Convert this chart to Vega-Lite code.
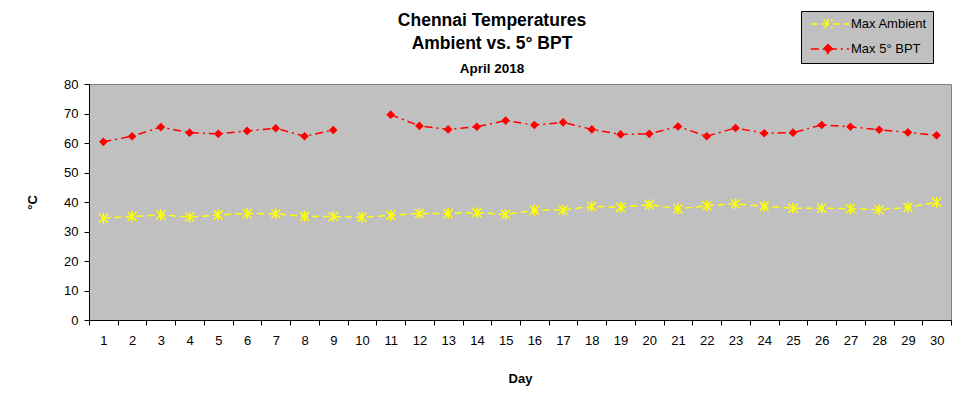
{
  "$schema": "https://vega.github.io/schema/vega-lite/v6.json",
  "autosize": "none",
  "width": 862,
  "height": 236,
  "padding": {"left": 89, "top": 84, "right": 22, "bottom": 84},
  "background": "#FFFFFF",
  "config": {
    "view": {"fill": "#C0C0C0", "stroke": "#808080", "strokeWidth": 1},
    "font": "Liberation Sans"
  },
  "title": {
    "text": ["Chennai Temperatures", "Ambient vs. 5° BPT"],
    "subtitle": "April 2018",
    "font": "Liberation Sans",
    "fontSize": 17.5,
    "fontWeight": "bold",
    "color": "#000000",
    "subtitleFont": "Liberation Sans",
    "subtitleFontSize": 13.5,
    "subtitleFontWeight": "bold",
    "subtitleColor": "#000000",
    "anchor": "middle",
    "frame": "group",
    "dx": -28,
    "dy": 73,
    "offset": 8,
    "lineHeight": 23,
    "subtitlePadding": 10
  },
  "data": {
    "values": [
      {"day": 1, "series": "Max Ambient", "temp": 34.5},
      {"day": 2, "series": "Max Ambient", "temp": 35.1},
      {"day": 3, "series": "Max Ambient", "temp": 35.6},
      {"day": 4, "series": "Max Ambient", "temp": 34.9},
      {"day": 5, "series": "Max Ambient", "temp": 35.6},
      {"day": 6, "series": "Max Ambient", "temp": 36.1},
      {"day": 7, "series": "Max Ambient", "temp": 36.0},
      {"day": 8, "series": "Max Ambient", "temp": 35.1},
      {"day": 9, "series": "Max Ambient", "temp": 35.1},
      {"day": 10, "series": "Max Ambient", "temp": 34.8},
      {"day": 11, "series": "Max Ambient", "temp": 35.5},
      {"day": 12, "series": "Max Ambient", "temp": 36.1},
      {"day": 13, "series": "Max Ambient", "temp": 36.1},
      {"day": 14, "series": "Max Ambient", "temp": 36.4},
      {"day": 15, "series": "Max Ambient", "temp": 35.8},
      {"day": 16, "series": "Max Ambient", "temp": 37.2},
      {"day": 17, "series": "Max Ambient", "temp": 37.3},
      {"day": 18, "series": "Max Ambient", "temp": 38.5},
      {"day": 19, "series": "Max Ambient", "temp": 38.2},
      {"day": 20, "series": "Max Ambient", "temp": 39.1},
      {"day": 21, "series": "Max Ambient", "temp": 37.7},
      {"day": 22, "series": "Max Ambient", "temp": 38.7},
      {"day": 23, "series": "Max Ambient", "temp": 39.4},
      {"day": 24, "series": "Max Ambient", "temp": 38.5},
      {"day": 25, "series": "Max Ambient", "temp": 37.9},
      {"day": 26, "series": "Max Ambient", "temp": 37.9},
      {"day": 27, "series": "Max Ambient", "temp": 37.7},
      {"day": 28, "series": "Max Ambient", "temp": 37.4},
      {"day": 29, "series": "Max Ambient", "temp": 38.2},
      {"day": 30, "series": "Max Ambient", "temp": 39.9},
      {"day": 1, "series": "Max 5° BPT", "temp": 60.4},
      {"day": 2, "series": "Max 5° BPT", "temp": 62.3},
      {"day": 3, "series": "Max 5° BPT", "temp": 65.4},
      {"day": 4, "series": "Max 5° BPT", "temp": 63.5},
      {"day": 5, "series": "Max 5° BPT", "temp": 63.1},
      {"day": 6, "series": "Max 5° BPT", "temp": 64.1},
      {"day": 7, "series": "Max 5° BPT", "temp": 65.0},
      {"day": 8, "series": "Max 5° BPT", "temp": 62.3},
      {"day": 9, "series": "Max 5° BPT", "temp": 64.4},
      {"day": 10, "series": "Max 5° BPT", "temp": null},
      {"day": 11, "series": "Max 5° BPT", "temp": 69.6},
      {"day": 12, "series": "Max 5° BPT", "temp": 65.8},
      {"day": 13, "series": "Max 5° BPT", "temp": 64.6},
      {"day": 14, "series": "Max 5° BPT", "temp": 65.5},
      {"day": 15, "series": "Max 5° BPT", "temp": 67.6},
      {"day": 16, "series": "Max 5° BPT", "temp": 66.1},
      {"day": 17, "series": "Max 5° BPT", "temp": 67.0},
      {"day": 18, "series": "Max 5° BPT", "temp": 64.6},
      {"day": 19, "series": "Max 5° BPT", "temp": 62.9},
      {"day": 20, "series": "Max 5° BPT", "temp": 63.1},
      {"day": 21, "series": "Max 5° BPT", "temp": 65.6},
      {"day": 22, "series": "Max 5° BPT", "temp": 62.3},
      {"day": 23, "series": "Max 5° BPT", "temp": 65.1},
      {"day": 24, "series": "Max 5° BPT", "temp": 63.3},
      {"day": 25, "series": "Max 5° BPT", "temp": 63.5},
      {"day": 26, "series": "Max 5° BPT", "temp": 66.1},
      {"day": 27, "series": "Max 5° BPT", "temp": 65.5},
      {"day": 28, "series": "Max 5° BPT", "temp": 64.5},
      {"day": 29, "series": "Max 5° BPT", "temp": 63.6},
      {"day": 30, "series": "Max 5° BPT", "temp": 62.6}
    ]
  },
  "encoding": {
    "x": {
      "field": "day",
      "type": "quantitative",
      "scale": {"domain": [0.5, 30.5], "nice": false, "zero": false},
      "axis": {
        "values": [0.5, 1.5, 2.5, 3.5, 4.5, 5.5, 6.5, 7.5, 8.5, 9.5, 10.5, 11.5, 12.5, 13.5, 14.5, 15.5, 16.5, 17.5, 18.5, 19.5, 20.5, 21.5, 22.5, 23.5, 24.5, 25.5, 26.5, 27.5, 28.5, 29.5, 30.5],
        "labelExpr": "datum.value > 30 ? '' : format(datum.value + 0.5, 'd')",
        "labelOffset": 14.37,
        "labelFont": "Liberation Sans",
        "labelFontSize": 13,
        "labelColor": "#000000",
        "labelPadding": 9,
        "labelFlush": false,
        "labelOverlap": false,
        "tickSize": 5,
        "tickColor": "#000000",
        "domainColor": "#000000",
        "grid": false,
        "title": "Day",
        "titleFont": "Liberation Sans",
        "titleFontSize": 13,
        "titleFontWeight": "bold",
        "titleColor": "#000000",
        "titleY": 58,
        "titleBaseline": "middle"
      }
    },
    "y": {
      "field": "temp",
      "type": "quantitative",
      "scale": {"domain": [0, 80], "nice": false},
      "axis": {
        "values": [0, 10, 20, 30, 40, 50, 60, 70, 80],
        "labelFont": "Liberation Sans",
        "labelFontSize": 13,
        "labelColor": "#000000",
        "labelPadding": 6,
        "tickSize": 5,
        "tickColor": "#000000",
        "domainColor": "#000000",
        "grid": false,
        "title": "°C",
        "titleFont": "Liberation Sans",
        "titleFontSize": 13,
        "titleFontWeight": "bold",
        "titleColor": "#000000",
        "titleX": -57,
        "titleY": 118,
        "titleAngle": -90,
        "titleAlign": "center",
        "titleBaseline": "middle"
      }
    }
  },
  "layer": [
    {
      "mark": {"type": "line", "strokeWidth": 1.5, "invalid": "break-paths-show-domains"},
      "encoding": {
        "color": {
          "field": "series",
          "type": "nominal",
          "scale": {"domain": ["Max Ambient", "Max 5° BPT"], "range": ["#FFFF00", "#FF0000"]},
          "legend": {
            "orient": "none",
            "legendX": 712,
            "legendY": -73,
            "title": null,
            "fillColor": "#C0C0C0",
            "strokeColor": "#000000",
            "padding": 6,
            "labelFont": "Liberation Sans",
            "labelFontSize": 13,
            "labelColor": "#000000",
            "symbolSize": 144,
            "symbolOffset": 16,
            "labelOffset": 14,
            "rowPadding": 8,
            "symbolStrokeWidth": 1.5,
            "encode": {
              "symbols": {
                "update": {
                  "shape": {"signal": "datum.value === 'Max Ambient' ? 'M-3.2,0H3.2M-1.08,-0.75L0.42,0.75M-1.08,0.75L0.42,-0.75M-0.33,-0.85V0.85' : 'M-3.2,0H3.2M-0.33,-0.75L0.42,0L-0.33,0.75L-1.08,0Z'"},
                  "strokeDash": {"signal": "datum.value === 'Max Ambient' ? [7,4] : [8,4,2,4]"},
                  "fill": {"signal": "datum.value === 'Max Ambient' ? 'transparent' : '#FF0000'"},
                  "stroke": {"signal": "datum.value === 'Max Ambient' ? '#FFFF00' : '#FF0000'"},
                  "opacity": {"value": 1}
                }
              }
            }
          }
        },
        "strokeDash": {
          "field": "series",
          "type": "nominal",
          "scale": {"domain": ["Max Ambient", "Max 5° BPT"], "range": [[7, 4], [8, 4, 2, 4]]},
          "legend": null
        }
      }
    },
    {
      "transform": [{"filter": "datum.series === 'Max Ambient'"}],
      "mark": {
        "type": "point",
        "shape": "M-1,-1L1,1M-1,1L1,-1M0,-1.2V1.2",
        "filled": false,
        "stroke": "#FFFF00",
        "strokeWidth": 1.5,
        "size": 81,
        "opacity": 1
      }
    },
    {
      "transform": [{"filter": "datum.series === 'Max 5° BPT'"}],
      "mark": {
        "type": "point",
        "shape": "diamond",
        "filled": true,
        "fill": "#FF0000",
        "size": 75,
        "opacity": 1
      }
    }
  ]
}
